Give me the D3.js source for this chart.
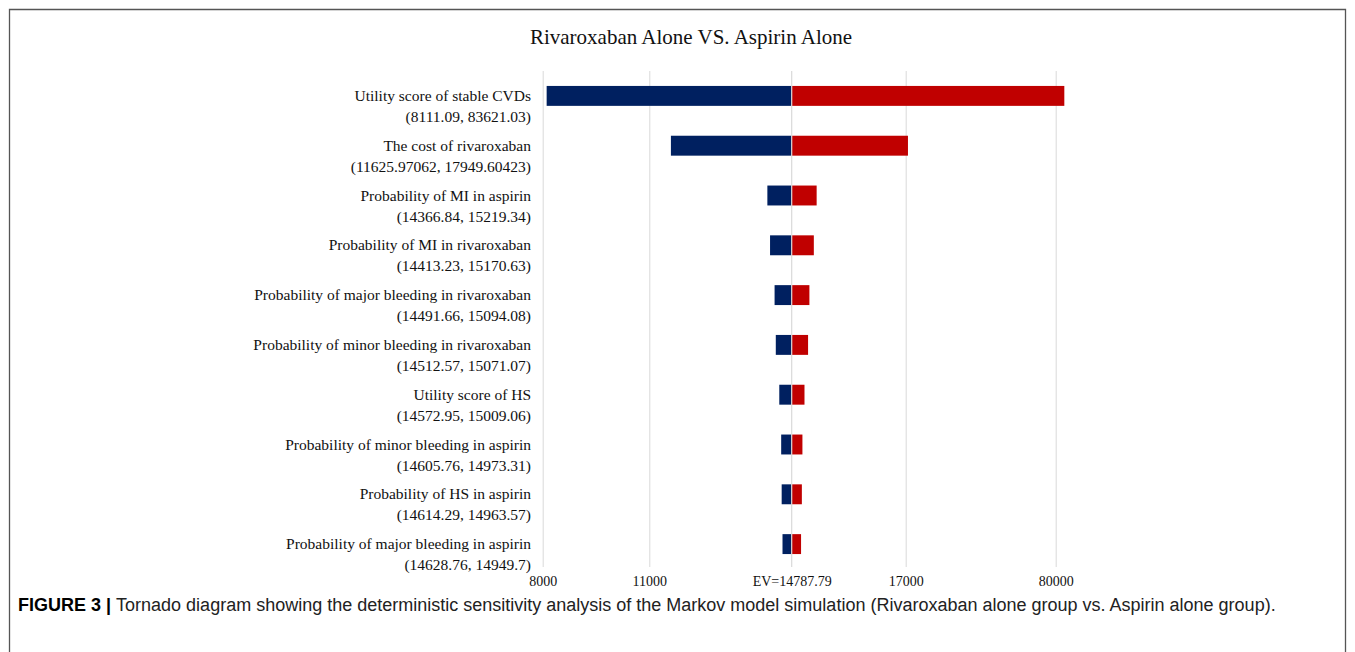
<!DOCTYPE html>
<html>
<head>
<meta charset="utf-8">
<script src="https://cdn.jsdelivr.net/npm/d3@7"></script>
<style>
  body { margin: 0; background: #fff; }
  svg { display: block; }
</style>
</head>
<body>
<div id="wrapper"></div>
<script>
// data
const params = [
  'Utility score of stable CVDs',
  'The cost of rivaroxaban',
  'Probability of MI in aspirin',
  'Probability of MI in rivaroxaban',
  'Probability of major bleeding in rivaroxaban',
  'Probability of minor bleeding in rivaroxaban',
  'Utility score of HS',
  'Probability of minor bleeding in aspirin',
  'Probability of HS in aspirin',
  'Probability of major bleeding in aspirin'
];
const lowValues = [8111.09, 11625.97062, 14366.84, 14413.23, 14491.66, 14512.57, 14572.95, 14605.76, 14614.29, 14628.76];
const highValues = [83621.03, 17949.60423, 15219.34, 15170.63, 15094.08, 15071.07, 15009.06, 14973.31, 14963.57, 14949.7];
const baseValue = 14787.79;
const tickValues = [8000, 11000, baseValue, 17000, 80000];

function drawTornado() {
  const dataset = params.map((name, i) => ({
    name: name,
    low: lowValues[i],
    high: highValues[i]
  }));

  const nameAccessor = d => d.name;
  const lowAccessor = d => d.low;
  const highAccessor = d => d.high;

  // chart dimensions
  let dimensions = {
    width: 1355,
    height: 652,
    margin: {
      top: 71,
      bottom: 85
    }
  };
  dimensions.boundedHeight =
    dimensions.height - dimensions.margin.top - dimensions.margin.bottom;

  const serif = '"Liberation Serif", "Times New Roman", serif';

  // canvas
  const wrapper = d3
    .select('#wrapper')
    .append('svg')
    .attr('width', dimensions.width)
    .attr('height', dimensions.height);

  // figure frame
  wrapper
    .append('path')
    .attr('d', 'M9.5,652 V9.5 H1345.5 V652')
    .attr('fill', 'none')
    .attr('stroke', '#555')
    .attr('stroke-width', 1.3);

  const bounds = wrapper
    .append('g')
    .attr('transform', `translate(0, ${dimensions.margin.top})`);

  // scales: broken axis, with a zoomed band around the base value
  const xBreaks = [8000, 11000, baseValue - 500, baseValue, baseValue + 500, 17000, 80000];
  const xStops = [542.7, 649.3, 762.8, 791.7, 820.6, 905.7, 1055.7];
  const xScale = d3.scaleLinear().domain(xBreaks).range(xStops);

  const yScale = d3
    .scaleBand()
    .domain(params)
    .range([0, dimensions.boundedHeight + 2])
    .paddingInner(0.6)
    .paddingOuter(0.3);

  // gridlines
  const gridGenerator = d3
    .axisBottom(xScale)
    .tickValues(tickValues.filter(v => v !== baseValue))
    .tickSize(dimensions.boundedHeight)
    .tickFormat('');
  const grid = bounds.append('g').call(gridGenerator);
  grid.select('.domain').remove();
  grid.selectAll('line').attr('stroke', '#d9d9d9');

  // bars
  bounds
    .selectAll('.low-bar')
    .data(dataset)
    .join('rect')
    .attr('class', 'low-bar')
    .attr('x', d => xScale(lowAccessor(d)))
    .attr('y', d => yScale(nameAccessor(d)))
    .attr('width', d => xScale(baseValue) - xScale(lowAccessor(d)))
    .attr('height', yScale.bandwidth())
    .attr('fill', '#002060');

  bounds
    .selectAll('.high-bar')
    .data(dataset)
    .join('rect')
    .attr('class', 'high-bar')
    .attr('x', xScale(baseValue))
    .attr('y', d => yScale(nameAccessor(d)))
    .attr('width', d => xScale(highAccessor(d)) - xScale(baseValue))
    .attr('height', yScale.bandwidth())
    .attr('fill', '#c00000');

  // base value line
  bounds
    .append('line')
    .attr('x1', xScale(baseValue))
    .attr('x2', xScale(baseValue))
    .attr('y1', 0)
    .attr('y2', dimensions.boundedHeight)
    .attr('stroke', '#d9d9d9')
    .attr('stroke-width', 1.2);

  // row labels
  const labels = bounds
    .selectAll('.row-label')
    .data(dataset)
    .join('text')
    .attr('class', 'row-label')
    .attr('text-anchor', 'end')
    .style('font-family', serif)
    .style('font-size', '15.5px')
    .attr('fill', '#111');
  labels
    .append('tspan')
    .attr('x', 531)
    .attr('y', d => yScale(nameAccessor(d)) + yScale.bandwidth() / 2 + 5)
    .text(nameAccessor);
  labels
    .append('tspan')
    .attr('x', 531)
    .attr('dy', 21)
    .text(d => `(${lowAccessor(d)}, ${highAccessor(d)})`);

  // x axis labels
  const xAxisGenerator = d3
    .axisBottom(xScale)
    .tickValues(tickValues)
    .tickSize(0)
    .tickPadding(0)
    .tickFormat(d => (d === baseValue ? `EV=${d}` : d));
  const xAxis = bounds
    .append('g')
    .attr('transform', `translate(0, ${dimensions.boundedHeight + 9})`)
    .call(xAxisGenerator);
  xAxis.select('.domain').remove();
  xAxis
    .selectAll('text')
    .style('font-family', serif)
    .style('font-size', '14px')
    .attr('fill', '#111');

  // title
  wrapper
    .append('text')
    .attr('x', 691)
    .attr('y', 44)
    .attr('text-anchor', 'middle')
    .style('font-family', serif)
    .style('font-size', '21px')
    .attr('fill', '#111')
    .text('Rivaroxaban Alone VS. Aspirin Alone');

  // caption
  const caption = wrapper
    .append('text')
    .attr('x', 18)
    .attr('y', 611)
    .style('font-family', '"Liberation Sans", Arial, sans-serif')
    .style('font-size', '18px')
    .attr('fill', '#222');
  caption
    .append('tspan')
    .attr('font-weight', 'bold')
    .attr('fill', '#000')
    .text('FIGURE 3 | ');
  caption
    .append('tspan')
    .text(
      'Tornado diagram showing the deterministic sensitivity analysis of the Markov model simulation (Rivaroxaban alone group vs. Aspirin alone group).'
    );
}
drawTornado();
</script>
</body>
</html>
